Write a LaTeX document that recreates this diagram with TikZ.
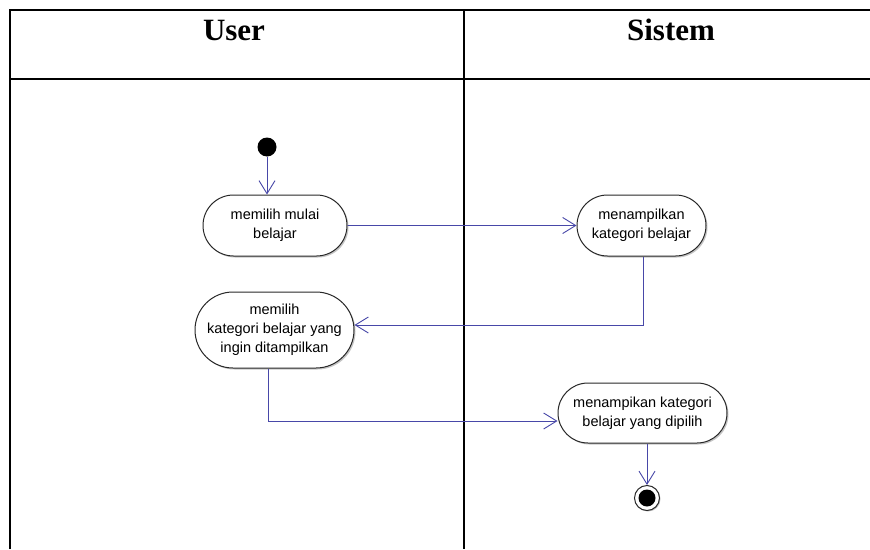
\documentclass[tikz,border=0pt]{standalone}
\usepackage{fontspec}
\setmainfont{Liberation Sans}
\newfontfamily\headfont{Liberation Serif}
\usetikzlibrary{arrows.meta,shadows,shapes.misc}
\definecolor{flow}{RGB}{72,72,168}
\definecolor{outline}{RGB}{40,40,40}
\begin{document}
\begin{tikzpicture}[x=1pt,y=-1pt,
  lane/.style={line width=2pt,black},
  lanehead/.style={anchor=base,font=\headfont\bfseries\fontsize{31}{36}\selectfont},
  activity/.style={rounded rectangle,draw=outline,line width=1pt,fill=white,
    align=center,inner sep=0pt,font=\fontsize{14.5}{19}\selectfont,
    drop shadow={shadow xshift=1.5pt,shadow yshift=-1.5pt,fill=black!45,opacity=0.5}},
  flowline/.style={draw=flow,line width=0.9pt,
    -{Straight Barb[length=13pt,width=16pt,line width=0.9pt]}},
  startnode/.style={circle,fill=black,minimum size=19pt,inner sep=0pt},
  endnode/.style={circle,draw=outline,line width=1pt,fill=white,minimum size=25pt,inner sep=0pt,
    drop shadow={shadow xshift=1pt,shadow yshift=-1pt,fill=black!45,opacity=0.5}},
]
\useasboundingbox (0,0) rectangle (870,549);
\fill[white] (0,0) rectangle (870,549);

% swimlane grid
\draw[lane] (10,549) -- (10,10) -- (872,10);
\draw[lane] (10,79) -- (872,79);
\draw[lane] (464,10) -- (464,549);

% lane headings
\node[lanehead] (huser) at (234,40) {User};
\node[lanehead] (hsistem) at (671,40) {Sistem};

% initial and final states
\node[startnode] (start) at (267,147) {};
\node[endnode] (end) at (647,498) {};
\fill[black] (end.center) circle (8.5pt);

% activities
\node[activity,minimum width=144pt,minimum height=61pt] (n1) at (275,225.5)
  {memilih mulai\\belajar};
\node[activity,minimum width=129pt,minimum height=61pt] (n2) at (641.5,225.5)
  {menampilkan\\kategori belajar};
\node[activity,minimum width=159pt,minimum height=76pt] (n3) at (274.5,330)
  {memilih\\kategori belajar yang\\ingin ditampilkan};
\node[activity,minimum width=169pt,minimum height=60pt] (n4) at (642.5,413)
  {menampikan kategori\\belajar yang dipilih};

% control flow
\draw[flowline] (start) -- (start |- n1.north);
\draw[flowline] (n1) -- (n2);
\draw[flowline] ([xshift=1.5pt]n2.south) |- ([yshift=5pt]n3.east);
\draw[flowline] ([xshift=-6.5pt]n3.south) |- ([yshift=-8pt]n4.west);
\draw[flowline] (n4.south -| end) -- (end);
\end{tikzpicture}
\end{document}
